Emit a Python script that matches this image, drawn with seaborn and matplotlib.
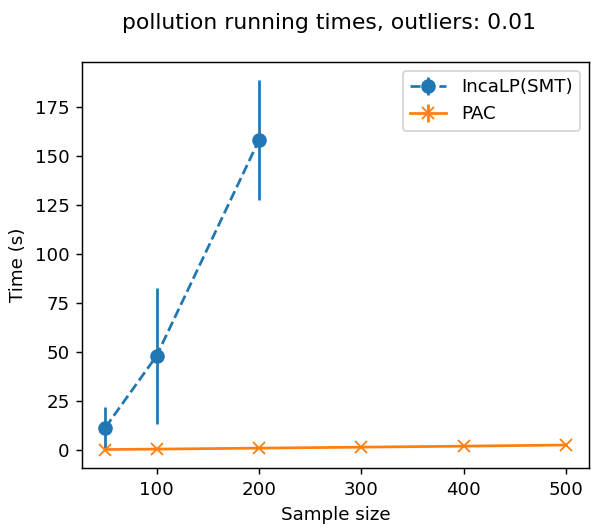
import numpy as np
import pandas as pd
import seaborn as sns
import matplotlib
matplotlib.use("Agg")
import matplotlib.pyplot as plt

sizes_inca = [50, 100, 200]
time_inca = [11.5, 48.0, 158.0]
err_inca = [10.5, 34.6, 30.6]

sizes_pac = [50, 100, 200, 300, 400, 500]
time_pac = [0.3, 0.5, 1.0, 1.5, 2.0, 2.6]
err_pac = [0.1, 0.1, 0.15, 0.2, 0.25, 0.3]


def main():
    colors = sns.color_palette("tab10")
    plt.rcParams["font.family"] = ["DejaVu Sans"]

    dpi = 131
    fig = plt.figure(figsize=(592 / dpi, 529 / dpi), dpi=dpi)
    ax = fig.add_axes([0.139, 0.115, 0.856, 0.768])

    ax.errorbar(sizes_inca, time_inca, yerr=err_inca, color=colors[0],
                linestyle="--", marker="o", markersize=7,
                label="IncaLP(SMT)")
    ax.errorbar(sizes_pac, time_pac, yerr=err_pac, color=colors[1],
                linestyle="-", marker="x", markersize=7,
                label="PAC")

    ax.set_xlabel("Sample size")
    ax.set_ylabel("Time (s)")
    ax.legend()
    fig.suptitle("pollution running times, outliers: 0.01", x=0.556, y=0.975)

    fig.savefig("out.png", dpi=dpi)


if __name__ == "__main__":
    main()
